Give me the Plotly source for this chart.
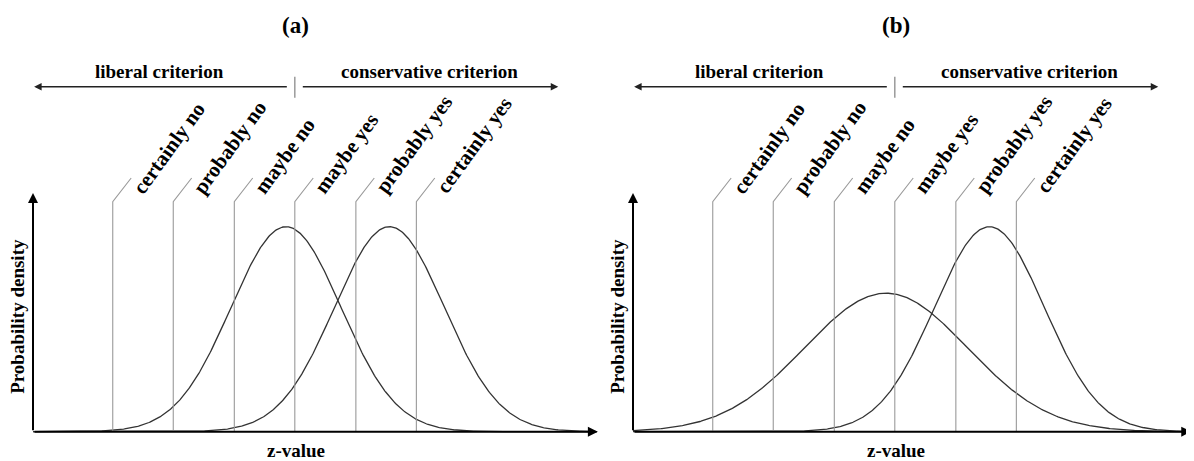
import numpy as np
import plotly.graph_objects as go

# ---- data (z units) ----
panels = ["(a)", "(b)"]
noise_mean = [0.0, 0.0]
noise_sd = [1.0, 1.48]
signal_mean = [1.88, 1.88]
signal_sd = [1.0, 1.0]
criteria = [-3.15, -2.05, -0.94, 0.16, 1.27, 2.37]
criteria_labels = ["certainly no", "probably no", "maybe no",
                   "maybe yes", "probably yes", "certainly yes"]
criterion_sides = ["liberal criterion", "conservative criterion"]
x_title = "z-value"
y_title = "Probability density"

FONT = "Liberation Serif"
# the page body adds an 8 px margin, so the figure is 8 px smaller than the window
W, H = 1186, 453

def pdf(x, m, s):
    return np.exp(-0.5 * ((x - m) / s) ** 2) / (s * np.sqrt(2 * np.pi))

fig = go.Figure()
x_axes = ["x", "x2"]
y_axes = ["y", "y2"]
x_start = -4.6
x_end = [5.67, 5.55]
line_top = 0.4476
slant_dx, slant_top = 0.335, 0.4937

annotations = []
shapes = []
for i in range(2):
    xr, yr = x_axes[i], y_axes[i]
    zz = np.linspace(x_start, x_end[i], 600)
    for m, s in [(noise_mean[i], noise_sd[i]), (signal_mean[i], signal_sd[i])]:
        fig.add_trace(go.Scatter(x=zz, y=pdf(zz, m, s), mode="lines",
                                 line=dict(color="#333333", width=1.3),
                                 xaxis=xr, yaxis=yr, showlegend=False,
                                 hoverinfo="skip"))
    # criterion lines
    for c, lab in zip(criteria, criteria_labels):
        shapes.append(dict(type="path", xref=xr, yref=yr,
                           path=f"M {c},0 L {c},{line_top} L {c+slant_dx},{slant_top}",
                           line=dict(color="#9a9a9a", width=1.1)))
        annotations.append(dict(x=c + 0.22, y=0.4495, xref=xr, yref=yr,
                                text=f"<b>{lab}</b>", showarrow=False,
                                textangle=-54, xanchor="left", yanchor="bottom",
                                font=dict(family=FONT, size=21, color="black")))
    # axes with arrows
    annotations.append(dict(x=x_end[i], y=0, ax=x_start, ay=0, xref=xr, yref=yr,
                            axref=xr, ayref=yr, text="", showarrow=True,
                            arrowhead=2, arrowsize=1, arrowwidth=2, arrowcolor="black"))
    annotations.append(dict(x=x_start, y=0.4645, ax=x_start, ay=0, xref=xr, yref=yr,
                            axref=xr, ayref=yr, text="", showarrow=True,
                            arrowhead=2, arrowsize=1, arrowwidth=2, arrowcolor="black"))
    # criterion direction arrows
    mid = criteria[3]
    annotations.append(dict(x=-4.58, y=0.6713, ax=mid - 0.118, ay=0.6713, xref=xr, yref=yr,
                            axref=xr, ayref=yr, text="", showarrow=True,
                            arrowhead=2, arrowsize=1, arrowwidth=1.5, arrowcolor="#222222"))
    annotations.append(dict(x=4.95, y=0.6713, ax=mid + 0.118, ay=0.6713, xref=xr, yref=yr,
                            axref=xr, ayref=yr, text="", showarrow=True,
                            arrowhead=2, arrowsize=1, arrowwidth=1.5, arrowcolor="#222222"))
    shapes.append(dict(type="line", xref=xr, yref=yr, x0=mid, x1=mid, y0=0.650, y1=0.6907,
                       line=dict(color="#9a9a9a", width=1.5)))
    annotations.append(dict(x=-2.3, y=0.700, xref=xr, yref=yr, text=f"<b>{criterion_sides[0]}</b>",
                            showarrow=False, xanchor="center", yanchor="middle",
                            font=dict(family=FONT, size=19, color="black")))
    annotations.append(dict(x=2.6, y=0.700, xref=xr, yref=yr, text=f"<b>{criterion_sides[1]}</b>",
                            showarrow=False, xanchor="center", yanchor="middle",
                            font=dict(family=FONT, size=19, color="black")))
    # panel title
    annotations.append(dict(x=0.18, y=0.7895, xref=xr, yref=yr, text=f"<b>{panels[i]}</b>",
                            showarrow=False, xanchor="center", yanchor="middle",
                            font=dict(family=FONT, size=23, color="black")))
    # axis titles
    annotations.append(dict(x=0.18, y=-0.0356, xref=xr, yref=yr, text=f"<b>{x_title}</b>",
                            showarrow=False, xanchor="center", yanchor="middle",
                            font=dict(family=FONT, size=19, color="black")))
    annotations.append(dict(x=-4.87, y=0.2238, xref=xr, yref=yr, text=f"<b>{y_title}</b>",
                            showarrow=False, xanchor="center", yanchor="middle", textangle=-90,
                            font=dict(family=FONT, size=19, color="black")))

ax_common = dict(visible=False, showgrid=False, zeroline=False, fixedrange=True)
fig.update_layout(
    width=W, height=H, autosize=False,
    margin=dict(l=0, r=0, t=0, b=0),
    paper_bgcolor="white", plot_bgcolor="white",
    xaxis=dict(domain=[0, 589 / W], range=[-5.0545, 5.654], **ax_common),
    xaxis2=dict(domain=[592 / W, 1.0], range=[-5.2, 5.6], **ax_common),
    yaxis=dict(domain=[0, 1], range=[-0.0570, 0.8245], **ax_common),
    yaxis2=dict(domain=[0, 1], range=[-0.0570, 0.8245], anchor="x2", **ax_common),
    annotations=annotations, shapes=shapes,
)
fig.write_html("out.html")
